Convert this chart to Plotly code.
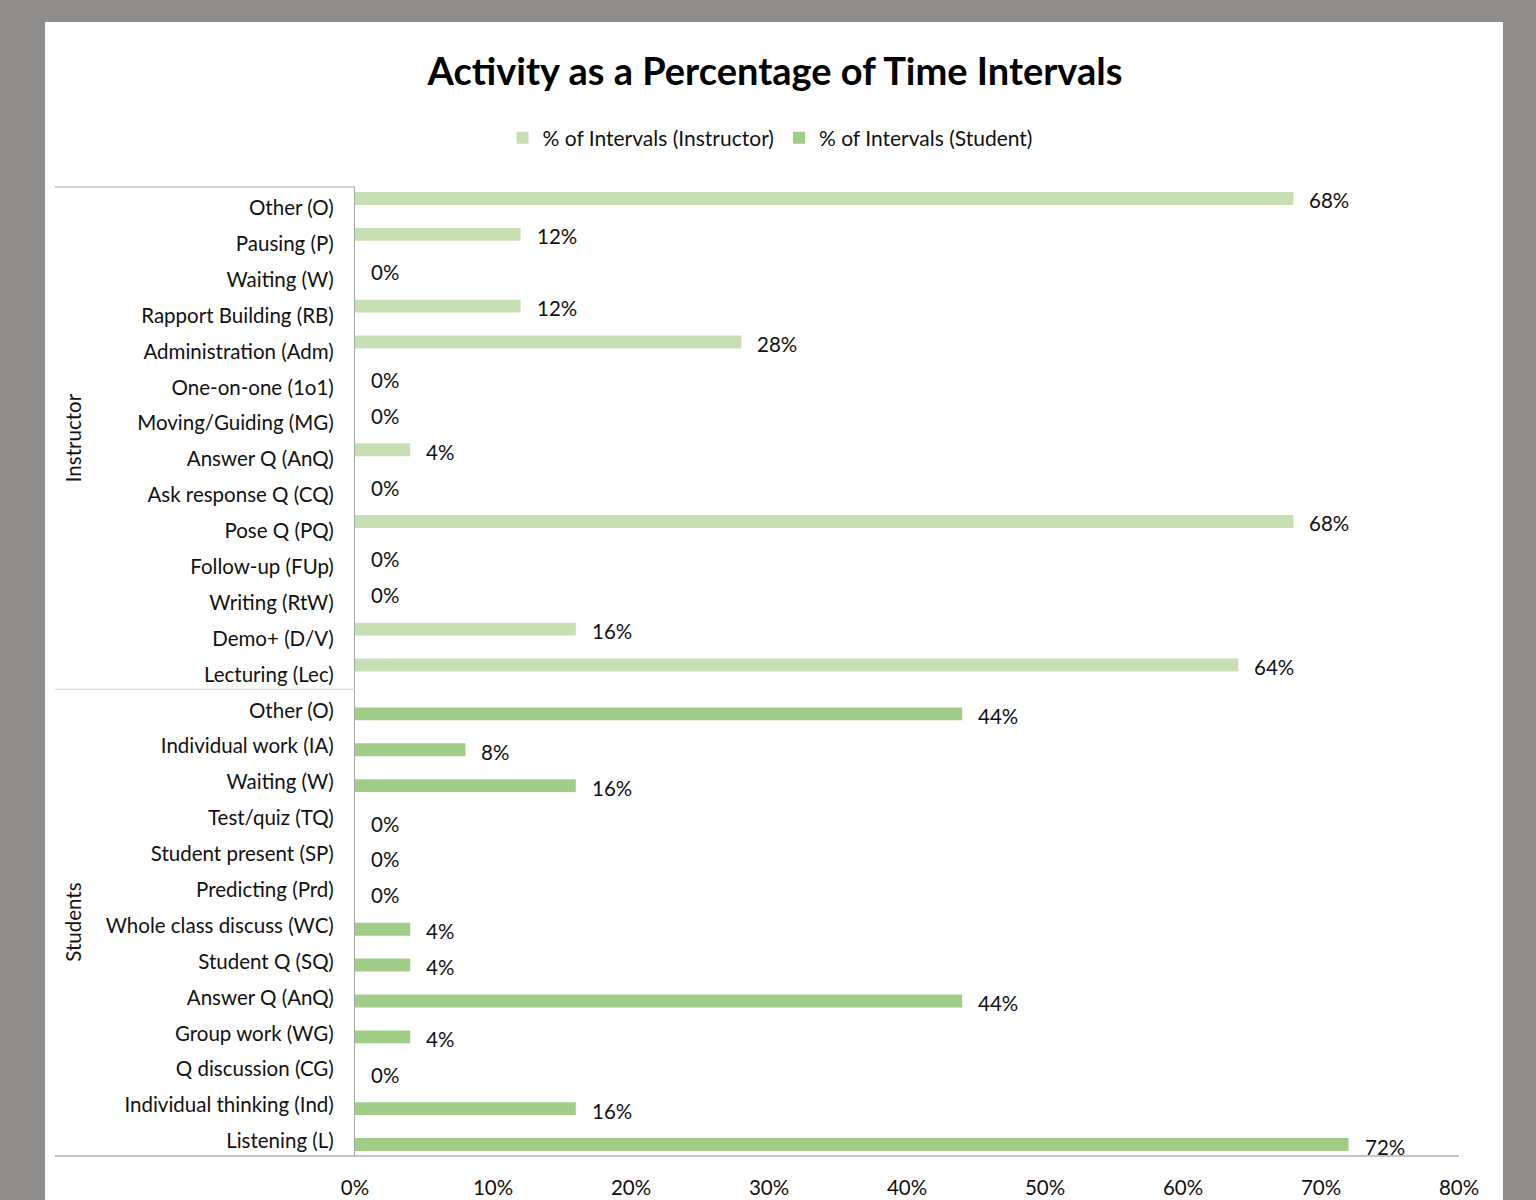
import plotly.graph_objects as go

# Coded activities for the instructor and for the students
instructor_labels = [
    "Other (O)", "Pausing (P)", "Waiting (W)", "Rapport Building (RB)",
    "Administration (Adm)", "One-on-one (1o1)", "Moving/Guiding (MG)",
    "Answer Q (AnQ)", "Ask response Q (CQ)", "Pose Q (PQ)", "Follow-up (FUp)",
    "Writing (RtW)", "Demo+ (D/V)", "Lecturing (Lec)",
]
instructor_pct = [68, 12, 0, 12, 28, 0, 0, 4, 0, 68, 0, 0, 16, 64]

student_labels = [
    "Other (O)", "Individual work (IA)", "Waiting (W)", "Test/quiz (TQ)",
    "Student present (SP)", "Predicting (Prd)", "Whole class discuss (WC)",
    "Student Q (SQ)", "Answer Q (AnQ)", "Group work (WG)", "Q discussion (CG)",
    "Individual thinking (Ind)", "Listening (L)",
]
student_pct = [44, 8, 16, 0, 0, 0, 4, 4, 44, 4, 0, 16, 72]

group_names = ["Instructor", "Students"]
series_names = ["% of Intervals (Instructor)", "% of Intervals (Student)"]
x_ticks = [0, 10, 20, 30, 40, 50, 60, 70, 80]

# --- styling ---
FONT = "Lato"
TXT = "#111111"
INSTR_COLOR = "#c6e0b4"
STUD_COLOR = "#a0cd88"
BAR_W = 0.36
PAGE_W, PAGE_H = 1536, 1200
M_L, M_R, M_T, M_B = 355, 77, 187, 44
PLOT_W = PAGE_W - M_L - M_R
PLOT_H = PAGE_H - M_T - M_B


def px_x(px):
    return (px - M_L) / PLOT_W


def px_y(py):
    return (PAGE_H - M_B - py) / PLOT_H


n_i = len(instructor_labels)
n_s = len(student_labels)
y_instr = list(range(n_i))
y_stud = list(range(n_i, n_i + n_s))
all_labels = instructor_labels + student_labels

fig = go.Figure()
fig.add_trace(go.Bar(
    name=series_names[0], orientation="h",
    x=instructor_pct, y=y_instr, width=BAR_W, offset=-BAR_W,
    marker=dict(color=INSTR_COLOR, line=dict(width=0)),
))
fig.add_trace(go.Bar(
    name=series_names[1], orientation="h",
    x=student_pct, y=y_stud, width=BAR_W, offset=0,
    marker=dict(color=STUD_COLOR, line=dict(width=0)),
))

annotations = []
# value labels just past the end of each bar
for ys, vals, off in ((y_instr, instructor_pct, -BAR_W / 2), (y_stud, student_pct, BAR_W / 2)):
    for yv, v in zip(ys, vals):
        annotations.append(dict(
            x=v, y=yv + off, xref="x", yref="y", text=f"{v}%",
            showarrow=False, xanchor="left", yanchor="middle",
            xshift=14, yshift=-2,
            font=dict(family=FONT, size=20.5, color=TXT),
        ))

# rotated group labels
for name, ys in zip(group_names, (y_instr, y_stud)):
    annotations.append(dict(
        x=px_x(73), y=(ys[0] + ys[-1]) / 2, xref="paper", yref="y",
        text=name, textangle=-90, showarrow=False,
        xanchor="center", yanchor="middle",
        font=dict(family=FONT, size=20.5, color=TXT),
    ))

shapes = [
    # white sheet behind the chart
    dict(type="rect", xref="paper", yref="paper", layer="below",
         x0=px_x(45), x1=px_x(1503), y0=px_y(1210), y1=px_y(22),
         fillcolor="white", line=dict(width=0)),
    # box lines around the category labels
    dict(type="line", xref="paper", yref="paper",
         x0=px_x(55), x1=0, y0=1, y1=1,
         line=dict(color="#a6a6a6", width=1.2)),
    dict(type="line", xref="paper", yref="y",
         x0=px_x(55), x1=0, y0=n_i - 0.5, y1=n_i - 0.5,
         line=dict(color="#dedede", width=1.2)),
    dict(type="line", xref="paper", yref="paper",
         x0=px_x(55), x1=1, y0=0, y1=0,
         line=dict(color="#b0b0b0", width=1.5)),
]

fig.update_layout(
    width=PAGE_W, height=PAGE_H,
    margin=dict(l=M_L, r=M_R, t=M_T, b=M_B, pad=0, autoexpand=False),
    paper_bgcolor="#8f8c8c", plot_bgcolor="white",
    barmode="overlay",
    font=dict(family=FONT, size=20, color=TXT),
    title=dict(
        text="<b>Activity as a Percentage of Time Intervals</b>",
        xref="container", x=775 / PAGE_W, xanchor="center",
        yref="container", y=1 - 72 / PAGE_H, yanchor="middle",
        font=dict(family=FONT, size=38, color="#000000"),
    ),
    legend=dict(
        orientation="h", xref="paper", yref="paper",
        x=px_x(770), xanchor="center", y=px_y(138), yanchor="middle",
        font=dict(family=FONT, size=21, color=TXT),
        itemwidth=30, bgcolor="rgba(0,0,0,0)", traceorder="normal",
    ),
    xaxis=dict(
        range=[0, 80], tickvals=x_ticks, ticktext=[f"{t}%" for t in x_ticks],
        showgrid=False, zeroline=False, showline=False, ticks="",
        ticklabelstandoff=17, automargin=False,
        tickfont=dict(family=FONT, size=20.5, color=TXT),
    ),
    yaxis=dict(
        range=[n_i + n_s - 0.5, -0.5],
        tickvals=y_instr + y_stud, ticktext=all_labels,
        showgrid=False, zeroline=False, ticks="",
        showline=True, linecolor="#a6a6a6", linewidth=1.2,
        ticklabelstandoff=16, ticklabelshift=-3, automargin=False,
        tickfont=dict(family=FONT, size=20.5, color=TXT),
    ),
    annotations=annotations,
    shapes=shapes,
)

fig.write_html("out.html")
